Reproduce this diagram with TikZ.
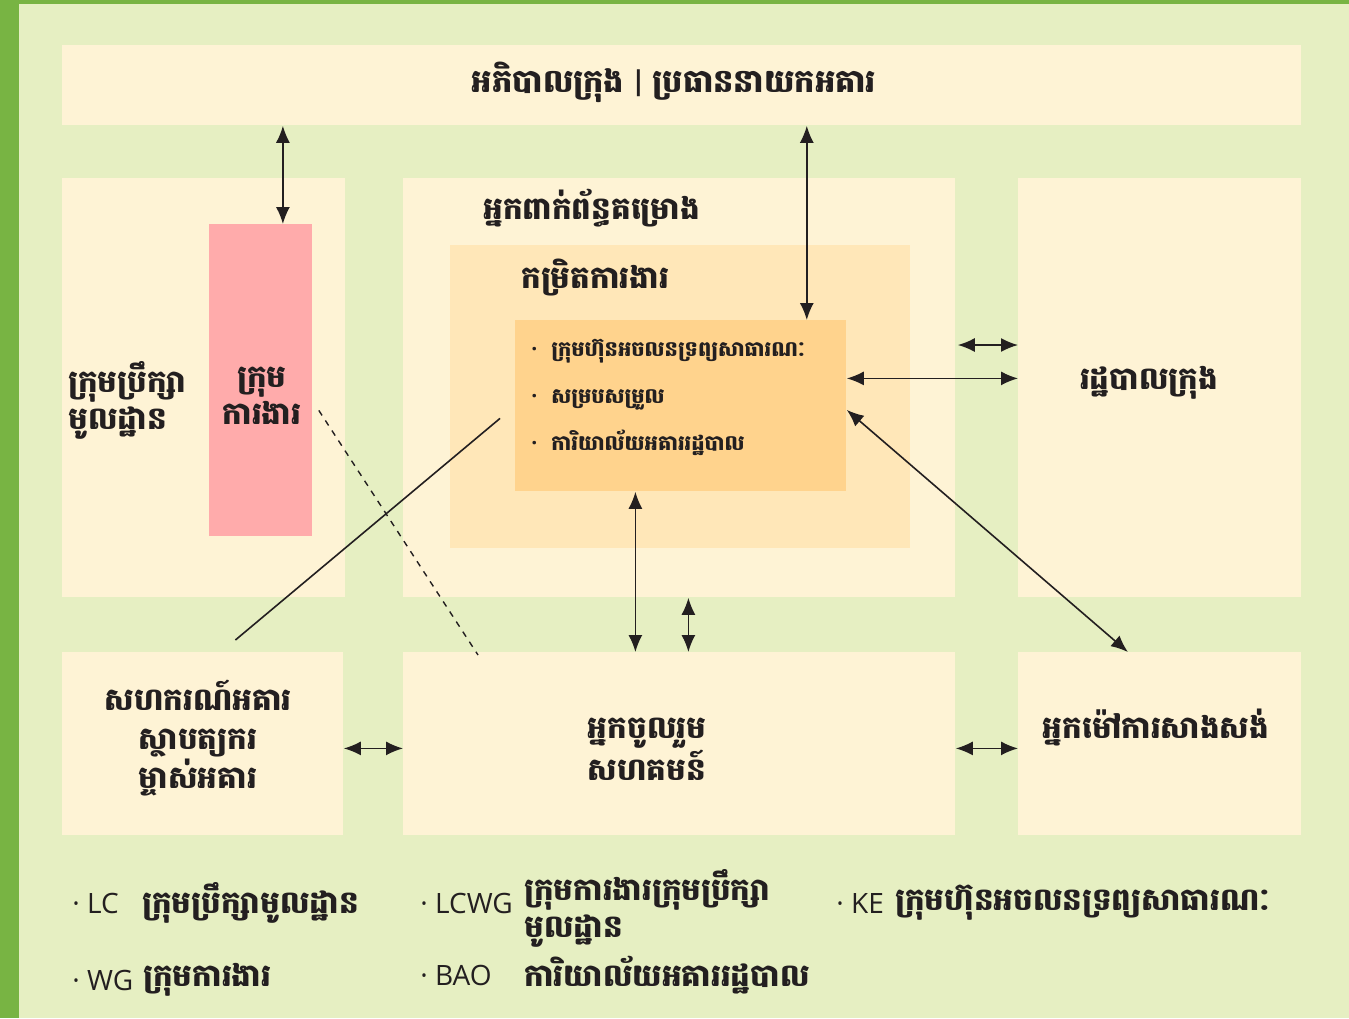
\documentclass[tikz,border=0pt]{standalone}
\usepackage{fontspec}
\setmainfont{Open Sans}
\newfontfamily\khmer[Script=Khmer]{Battambang}
\usetikzlibrary{arrows.meta, positioning}
\usepackage{xcolor}

\definecolor{leaf}{HTML}{78B443}
\definecolor{meadow}{HTML}{E6EFC2}
\definecolor{cream}{HTML}{FEF3D5}
\definecolor{rose}{HTML}{FFABAB}
\definecolor{apricot}{HTML}{FFE7B8}
\definecolor{peach}{HTML}{FFD38D}
\definecolor{ink}{HTML}{231F20}

\tikzset{
    panel/.style={fill=#1, draw=none, anchor=north west, inner sep=0pt},
    kh/.style={font=\khmer\bfseries\fontsize{15.5}{18.5}\selectfont, text=ink, inner sep=0pt},
    khsmall/.style={font=\khmer\bfseries\fontsize{10.5}{23.5}\selectfont, text=ink, inner sep=0pt},
    abbr/.style={font=\fontsize{14}{16}\selectfont, text=ink, inner sep=0pt, anchor=west},
    dbl/.style={{Latex[length=8.5pt,width=7pt]}-{Latex[length=8.5pt,width=7pt]}, line width=0.8pt, ink},
}

\begin{document}
\begin{tikzpicture}[x=0.5pt, y=-0.5pt]
    \useasboundingbox (0,0) rectangle (1349,1018);
    \fill[leaf] (0,0) rectangle (1349,1018);
    \fill[meadow] (19,4) rectangle (1349,1018);

    % panels
    \node[panel=cream, minimum width=619.5pt, minimum height=40pt] (top) at (62,45) {};
    \node[panel=cream, minimum width=141.5pt, minimum height=209.5pt] (lc) at (62,178) {};
    \node[panel=rose, minimum width=51.5pt, minimum height=156pt] (wg) at (209,224) {};
    \node[panel=cream, minimum width=276pt, minimum height=209.5pt] (stake) at (403,178) {};
    \node[panel=apricot, minimum width=230pt, minimum height=151.5pt] (level) at (450,245) {};
    \node[panel=peach, minimum width=165.5pt, minimum height=85.5pt] (core) at (515,320) {};
    \node[panel=cream, minimum width=141.5pt, minimum height=209.5pt] (city) at (1018,178) {};
    \node[panel=cream, minimum width=140.5pt, minimum height=91.5pt] (coop) at (62,652) {};
    \node[panel=cream, minimum width=276pt, minimum height=91.5pt] (comm) at (403,652) {};
    \node[panel=cream, minimum width=141.5pt, minimum height=91.5pt] (build) at (1018,652) {};

    % labels
    \node[kh, font=\khmer\bfseries\fontsize{16}{19}\selectfont] (toplbl) at (674,82) {អភិបាលក្រុង | ប្រធាននាយកអគារ};
    \node[kh, anchor=west] (stakelbl) at (483,208) {អ្នកពាក់ព័ន្ធគម្រោង};
    \node[kh, anchor=west] (levellbl) at (521,278) {កម្រិតការងារ};
    \node[khsmall, anchor=west, align=left] (corelist) at (531,397) {%
        {\rmfamily ·}\hspace{7pt}ក្រុមហ៊ុនអចលនទ្រព្យសាធារណៈ\\
        {\rmfamily ·}\hspace{7pt}សម្របសម្រួល\\
        {\rmfamily ·}\hspace{7pt}ការិយាល័យអគាររដ្ឋបាល};
    \node[kh, anchor=west, align=left] (lclbl) at (68,400) {ក្រុមប្រឹក្សា\\មូលដ្ឋាន};
    \node[kh, align=center] (wglbl) at (262,396) {ក្រុម\\ការងារ};
    \node[kh] (citylbl) at (1149,383) {រដ្ឋបាលក្រុង};
    \node[kh, align=center, font=\khmer\bfseries\fontsize{15.5}{19.5}\selectfont] (cooplbl) at (198,738) {សហករណ៍អគារ\\ស្ថាបត្យករ\\ម្ចាស់អគារ};
    \node[kh, align=center] (commlbl) at (647,749) {អ្នកចូលរួម\\សហគមន៍};
    \node[kh] (buildlbl) at (1156,728) {អ្នកម៉ៅការសាងសង់};

    % connectors
    \draw[dbl] ([xshift=11pt]wg.north) -- ([xshift=11pt]wg.north |- top.south);
    \draw[dbl] ([xshift=-20pt]core.north east) -- ([xshift=-20pt]core.north east |- top.south);
    \draw[dbl] ([yshift=-83.5pt,xshift=1pt]stake.north east) -- ([yshift=-83.5pt]city.north west);
    \draw[dbl] ([yshift=13.75pt]core.east) -- ([yshift=13.75pt]core.east -| city.west);
    \draw[dbl] ([yshift=-2pt]core.east) -- ([xshift=-16pt]build.north);
    \draw[dbl] ([xshift=-22.75pt]core.south) -- ([xshift=-22.75pt]core.south |- comm.north);
    \draw[dbl] ([xshift=4.5pt]stake.south) -- ([xshift=4.5pt]stake.south |- comm.north);
    \draw[dbl] ([yshift=-2.25pt]coop.east) -- ([yshift=-2.25pt]coop.east -| comm.west);
    \draw[dbl] ([yshift=-2.25pt]comm.east) -- ([yshift=-2.25pt]comm.east -| build.west);
    \draw[line width=0.8pt, ink] ([xshift=-7.5pt,yshift=-6.25pt]core.west) -- ([xshift=16.25pt,yshift=6pt]coop.north);
    \draw[line width=0.7pt, ink, dashed] ([xshift=3pt,yshift=-15pt]wg.east) -- ([xshift=37.5pt,yshift=-1.5pt]comm.north west);

    % key
    \node[abbr] (keylc) at (72,903) {· LC};
    \node[kh, anchor=west] (keylctxt) at (142,903) {ក្រុមប្រឹក្សាមូលដ្ឋាន};
    \node[abbr] (keywg) at (72,980) {· WG};
    \node[kh, anchor=west] (keywgtxt) at (143,980) {ក្រុមការងារ};
    \node[abbr] (keylcwg) at (420,903) {· LCWG};
    \node[kh, anchor=west, align=left] (keylcwgtxt) at (524,908) {ក្រុមការងារក្រុមប្រឹក្សា\\មូលដ្ឋាន};
    \node[abbr] (keybao) at (420,975) {· BAO};
    \node[kh, anchor=west] (keybaotxt) at (524,975) {ការិយាល័យអគាររដ្ឋបាល};
    \node[abbr] (keyke) at (836,903) {· KE};
    \node[kh, anchor=west] (keyketxt) at (895,903) {ក្រុមហ៊ុនអចលនទ្រព្យសាធារណៈ};
\end{tikzpicture}
\end{document}
